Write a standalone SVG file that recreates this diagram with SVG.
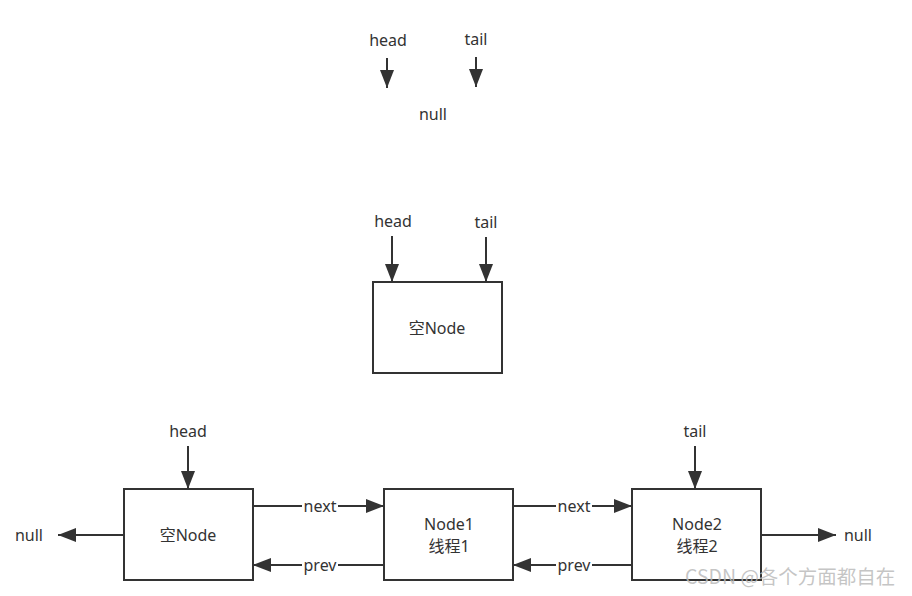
<svg xmlns="http://www.w3.org/2000/svg" width="912" height="596" viewBox="0 0 912 596">
<style>
.t{font-family:"Noto Sans","Noto Sans CJK SC",sans-serif;font-size:16px;fill:#333;text-anchor:middle}
.box{fill:#fff;stroke:#333;stroke-width:2}
.ln{stroke:#333;stroke-width:2;fill:none}
.wm{font-family:"Noto Sans CJK SC","Noto Sans",sans-serif;font-size:19.5px;fill:#bbb;fill-opacity:0.85}
</style>
<defs>
<marker id="ah" markerUnits="userSpaceOnUse" markerWidth="20" markerHeight="14" refX="18" refY="7" orient="auto">
<path d="M0,0 L18,7 L0,14 Z" fill="#333"/>
</marker>
</defs>
<rect width="912" height="596" fill="#fff"/>

<g id="top">
<text class="t" x="388" y="46">head</text>
<text class="t" x="476" y="45">tail</text>
<text class="t" x="433" y="120">null</text>
</g>

<g id="mid-node">
<rect class="box" x="373" y="282" width="129" height="91"/>
<text class="t" x="437" y="334">空Node</text>
<text class="t" x="393" y="227">head</text>
<text class="t" x="486" y="228">tail</text>
</g>

<g id="node-empty">
<rect class="box" x="124" y="489" width="129" height="91"/>
<text class="t" x="188" y="541">空Node</text>
</g>
<g id="node1">
<rect class="box" x="384" y="489" width="129" height="91"/>
<text class="t" x="449" y="530">Node1</text>
<text class="t" x="449" y="552">线程1</text>
</g>
<g id="node2">
<rect class="box" x="632" y="489" width="129" height="91"/>
<text class="t" x="697" y="530">Node2</text>
<text class="t" x="697" y="552">线程2</text>
</g>
<g id="labels">
<text class="t" x="188" y="437">head</text>
<text class="t" x="695" y="437">tail</text>
<text class="t" x="29" y="541">null</text>
<text class="t" x="858" y="541">null</text>
</g>

<g id="connectors">
<line class="ln" x1="387" y1="58" x2="387" y2="88" marker-end="url(#ah)"/>
<line class="ln" x1="476" y1="57" x2="476" y2="87" marker-end="url(#ah)"/>
<line class="ln" x1="392" y1="236" x2="392" y2="282" marker-end="url(#ah)"/>
<line class="ln" x1="486" y1="237" x2="486" y2="282" marker-end="url(#ah)"/>
<line class="ln" x1="188" y1="446" x2="188" y2="489" marker-end="url(#ah)"/>
<line class="ln" x1="695" y1="446" x2="695" y2="489" marker-end="url(#ah)"/>
<line class="ln" x1="124" y1="535" x2="58" y2="535" marker-end="url(#ah)"/>
<line class="ln" x1="761" y1="535" x2="836" y2="535" marker-end="url(#ah)"/>
<line class="ln" x1="253" y1="506" x2="384" y2="506" marker-end="url(#ah)"/>
<line class="ln" x1="384" y1="565" x2="253" y2="565" marker-end="url(#ah)"/>
<line class="ln" x1="513" y1="506" x2="632" y2="506" marker-end="url(#ah)"/>
<line class="ln" x1="632" y1="565" x2="513" y2="565" marker-end="url(#ah)"/>
<rect x="302" y="498" width="36" height="16" fill="#fff"/>
<rect x="302" y="557" width="36" height="16" fill="#fff"/>
<rect x="556" y="498" width="36" height="16" fill="#fff"/>
<rect x="556" y="557" width="36" height="16" fill="#fff"/>
<text class="t" x="320" y="512">next</text>
<text class="t" x="320" y="571">prev</text>
<text class="t" x="574" y="512">next</text>
<text class="t" x="574" y="571">prev</text>
</g>

<text class="wm" x="685" y="584">CSDN @各个方面都自在</text>
</svg>
